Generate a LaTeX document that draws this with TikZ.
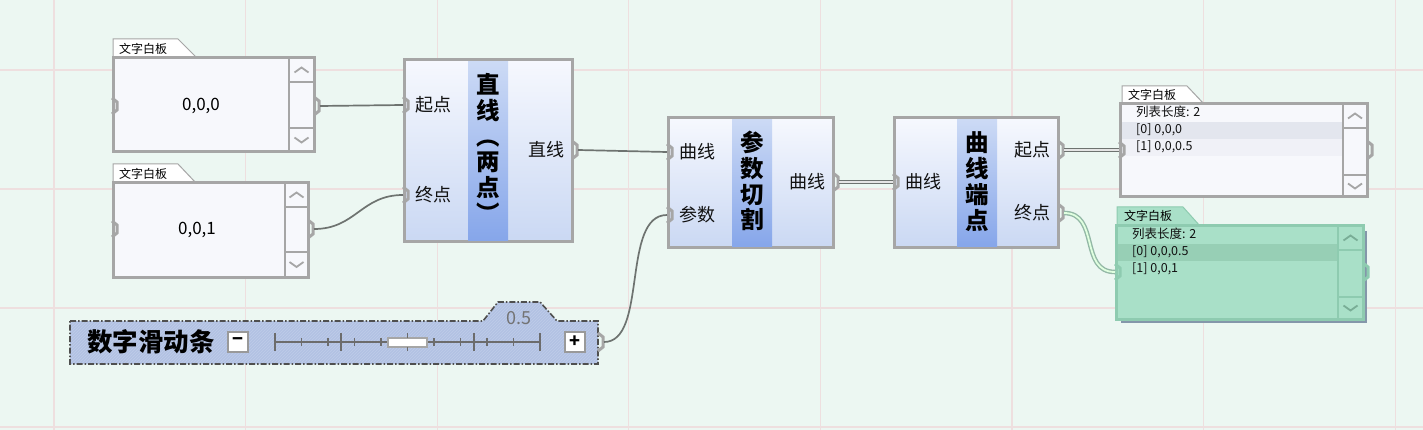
\documentclass[tikz,border=0pt]{standalone}
\usepackage{fontspec}
\setmainfont{Noto Sans CJK SC}
\usetikzlibrary{patterns}
\definecolor{bg}{HTML}{ECF7F2}
\definecolor{gridc}{HTML}{EEDFDF}
\definecolor{edge}{HTML}{A6A6A6}
\definecolor{bodytop}{HTML}{F6F8FE}
\definecolor{bodybot}{HTML}{CAD8F3}
\definecolor{striptop}{HTML}{CCDAF5}
\definecolor{stripbot}{HTML}{86A6EA}
\definecolor{panelfill}{HTML}{F7F8FC}
\definecolor{rowdark}{HTML}{E3E6EE}
\definecolor{rowlight}{HTML}{F0F1F7}
\definecolor{wirec}{HTML}{6E7370}
\definecolor{sliderfill}{HTML}{B2C2E3}
\definecolor{sliderhatch}{HTML}{BFCCE9}
\definecolor{sliderborder}{HTML}{4F4F4F}
\definecolor{greenfill}{HTML}{A9E0C8}
\definecolor{greenedge}{HTML}{8ECBB0}
\definecolor{greenrow}{HTML}{97CFB5}
\definecolor{greenshadow}{HTML}{8497AA}
\definecolor{gwire}{HTML}{93B8A6}
\definecolor{txt}{HTML}{111111}

\tikzset{
  gridline/.style={draw=gridc, line width=1.3pt},
  comp/.style={draw=edge, line width=3pt, top color=bodytop, bottom color=bodybot,
    rectangle, inner sep=0pt, outer sep=0pt, anchor=north west},
  stripbox/.style={top color=striptop, bottom color=stripbot, rectangle,
    inner sep=0pt, outer sep=0pt, anchor=north west},
  titletext/.style={font=\fontsize{23.5}{25.8}\selectfont\bfseries, align=center,
    inner sep=0pt, text=black},
  portlabel/.style={font=\fontsize{18}{20}\selectfont, inner sep=0pt, text=txt},
  grip/.style={draw=edge, line width=3pt, line join=miter},
  wire/.style={draw=wirec, line width=1.7pt},
  dwire/.style={draw=wirec, double=white!80!gray, line width=1.4pt, double distance=1.8pt},
  gdwire/.style={draw=gwire, double=white!88!green, line width=1.4pt, double distance=1.8pt},
  panelbox/.style={draw=edge, line width=3pt, fill=panelfill, rectangle,
    inner sep=0pt, outer sep=0pt, anchor=north west},
  greenbox/.style={draw=greenedge, line width=3pt, fill=greenfill, rectangle,
    inner sep=0pt, outer sep=0pt, anchor=north west},
  tabshape/.style={draw=edge, line width=1pt, fill=white},
  gtabshape/.style={draw=greenedge, line width=1pt, fill=greenfill},
  tabtext/.style={font=\fontsize{12}{12}\selectfont, anchor=west, inner sep=0pt, text=black},
  valtext/.style={font=\fontsize{17}{18}\selectfont, inner sep=0pt, text=black},
  listtext/.style={font=\fontsize{12.5}{14}\selectfont, anchor=west, inner sep=0pt, text=txt},
  scrollline/.style={draw=edge, line width=2.4pt},
  chev/.style={draw=edge, line width=1.8pt},
  gchev/.style={draw=greenedge!85!black, line width=1.8pt},
  sbtn/.style={draw=gray!80, line width=1.6pt, fill=white, rectangle, inner sep=0pt,
    minimum width=20pt, minimum height=20pt, font=\fontsize{18}{18}\selectfont\bfseries},
}
\newcommand\ingrip[2]{\draw[grip] (#1-1,#2-8) -- (#1+4,#2-4) -- (#1+4,#2+4) -- (#1-1,#2+8);}
\newcommand\outgrip[2]{\draw[grip] (#1,#2-9) -- (#1+5,#2-5) -- (#1+5,#2+5) -- (#1,#2+9);}
\newcommand\upchev[3][chev]{\draw[#1] (#2-7,#3+2.5) -- (#2,#3-2.5) -- (#2+7,#3+2.5);}
\newcommand\downchev[3][chev]{\draw[#1] (#2-7,#3-2.5) -- (#2,#3+2.5) -- (#2+7,#3-2.5);}

\begin{document}
\begin{tikzpicture}[x=1pt,y=-1pt]
\useasboundingbox (0,0) rectangle (1423,430);
\fill[fill=bg] (0,0) rectangle (1423,430);
\foreach \gx in {54,245.6,437.2,628.8,820.4,1012,1203.6,1395.2}
  \draw[gridline] (\gx,0) -- (\gx,430);
\foreach \gy in {70,189,308,427}
  \draw[gridline] (0,\gy) -- (1423,\gy);

% ---------- panel 1 : 0,0,0 ----------
\draw[tabshape] (113,58) -- (113,39) -- (178,39) -- (197,58);
\node[tabtext] (tabA) at (119,49) {文字白板};
\node[panelbox, minimum width=201pt, minimum height=94pt] (pa) at (113,58) {};
\draw[scrollline] (289,58) -- (289,152);
\draw[scrollline] (289,82) -- (314,82);
\draw[scrollline] (289,128) -- (314,128);
\upchev{301.5}{70}
\downchev{301.5}{140}
\node[valtext] (vala) at (201,106) {0,0,0};
\ingrip{113}{106}
\outgrip{314}{106}
\coordinate (paout) at (320,106);

% ---------- panel 2 : 0,0,1 ----------
\draw[tabshape] (113,183) -- (113,164) -- (178,164) -- (196,183);
\node[tabtext] (tabB) at (119,174) {文字白板};
\node[panelbox, minimum width=195pt, minimum height=94pt] (pb) at (113,183) {};
\draw[scrollline] (285,183) -- (285,277);
\draw[scrollline] (285,207) -- (308,207);
\draw[scrollline] (285,252) -- (308,252);
\upchev{296.5}{195}
\downchev{296.5}{264.5}
\node[valtext] (valb) at (197,230) {0,0,1};
\ingrip{113}{229}
\outgrip{308}{229}
\coordinate (pbout) at (314,229);

% ---------- component: 直线（两点） ----------
\node[comp, minimum width=168pt, minimum height=182pt] (line) at (404,60) {};
\node[stripbox, minimum width=40pt, minimum height=179pt] (lstrip) at (468,61.5) {};
\node[titletext] (ltitle) at (488,148) {直\\线\\︵\\两\\点\\︶};
\node[portlabel, anchor=west] (lS) at (415,105) {起点};
\node[portlabel, anchor=west] (lE) at (415,195) {终点};
\node[portlabel, anchor=east] (lO) at (565,150) {直线};
\ingrip{404}{105}
\ingrip{404}{195}
\outgrip{572}{150}
\coordinate (linS) at (403,105);
\coordinate (linE) at (403,195);
\coordinate (lout) at (578,150);

% ---------- component: 参数切割 ----------
\node[comp, minimum width=165pt, minimum height=130pt] (cut) at (668,118) {};
\node[stripbox, minimum width=40pt, minimum height=127pt] (cstrip) at (732,119.5) {};
\node[titletext] (ctitle) at (752,181) {参\\数\\切\\割};
\node[portlabel, anchor=west] (cC) at (679,152) {曲线};
\node[portlabel, anchor=west] (cP) at (679,215) {参数};
\node[portlabel, anchor=east] (cO) at (826,182) {曲线};
\ingrip{668}{152}
\ingrip{668}{215}
\outgrip{833}{182}
\coordinate (cinC) at (667,152);
\coordinate (cinP) at (667,215);
\coordinate (cout) at (839,182);

% ---------- component: 曲线端点 ----------
\node[comp, minimum width=164pt, minimum height=130pt] (ends) at (894,118) {};
\node[stripbox, minimum width=40pt, minimum height=127pt] (estrip) at (957,119.5) {};
\node[titletext] (etitle) at (977,181.5) {曲\\线\\端\\点};
\node[portlabel, anchor=west] (eC) at (905,182) {曲线};
\node[portlabel, anchor=east] (eS) at (1051,150) {起点};
\node[portlabel, anchor=east] (eE) at (1051,213) {终点};
\ingrip{894}{182}
\outgrip{1058}{150}
\outgrip{1058}{213}
\coordinate (einC) at (893,182);
\coordinate (eoutS) at (1064,150);
\coordinate (eoutE) at (1064,213);

% ---------- panel 3 (white list) ----------
\draw[tabshape] (1122,104) -- (1122,86) -- (1187,86) -- (1204,104);
\node[tabtext] (tabC) at (1128,95) {文字白板};
\node[panelbox, minimum width=247pt, minimum height=93pt] (pc) at (1120,104) {};
\fill[fill=rowdark] (1121.5,122) rectangle (1343,139);
\fill[fill=rowlight] (1121.5,139) rectangle (1343,156);
\draw[scrollline] (1343,104) -- (1343,197);
\draw[scrollline] (1343,128) -- (1367,128);
\draw[scrollline] (1343,175) -- (1367,175);
\upchev{1355}{116}
\downchev{1355}{186}
\node[listtext] (c0) at (1136,112) {列表长度: 2};
\node[listtext] (c1) at (1136,130) {[0] 0,0,0};
\node[listtext] (c2) at (1136,147) {[1] 0,0,0.5};
\ingrip{1120}{150}
\outgrip{1367}{150}
\coordinate (pcin) at (1119,150);

% ---------- panel 4 (green list) ----------
\fill[fill=greenshadow] (1121,231) rectangle (1367,323);
\draw[gtabshape] (1117,226) -- (1117,207) -- (1183,207) -- (1200,226);
\node[tabtext] (tabD) at (1124,216) {文字白板};
\node[greenbox, minimum width=247pt, minimum height=93pt] (pd) at (1116,226) {};
\fill[fill=greenrow] (1117.5,244) rectangle (1338,261);
\draw[draw=greenedge, line width=2.4pt] (1338,226) -- (1338,319);
\draw[draw=greenedge, line width=2.4pt] (1338,250) -- (1363,250);
\draw[draw=greenedge, line width=2.4pt] (1338,297) -- (1363,297);
\upchev[gchev]{1350.5}{238}
\downchev[gchev]{1350.5}{308}
\node[listtext] (d0) at (1132,234) {列表长度: 2};
\node[listtext] (d1) at (1132,252) {[0] 0,0,0.5};
\node[listtext] (d2) at (1132,269) {[1] 0,0,1};
\draw[draw=greenedge, line width=3pt] (1115,264) -- (1120,268) -- (1120,276) -- (1115,280);
\draw[draw=greenedge, line width=3pt] (1363,263) -- (1368,267) -- (1368,277) -- (1363,281);
\coordinate (pdin) at (1115,272);

% ---------- number slider ----------
\draw[draw=sliderborder, line width=1.6pt, dash pattern=on 6pt off 2pt on 1.5pt off 2pt,
      preaction={fill=sliderfill},
      preaction={pattern=north east lines, pattern color=sliderhatch}]
  (70,321) -- (483,321) -- (498,302) -- (540,302) -- (557,321) -- (598,321)
  -- (598,364) -- (70,364) -- cycle;
\node[font=\fontsize{25.5}{25.5}\selectfont\bfseries, inner sep=0pt, text=black] (stitle) at (151,342) {数字滑动条};
\node[font=\fontsize{18}{18}\selectfont, inner sep=0pt, text=gray!90!black] (sval) at (519,318) {0.5};
\node[sbtn] (minus) at (238,342) {−};
\node[sbtn] (plus) at (575,342) {+};
\draw[draw=gray!85!black, line width=1.5pt] (275,342) -- (540,342);
\foreach \tx in {275,341.25,407.5,473.75,540}
  \draw[draw=gray!85!black, line width=1.6pt] (\tx,333) -- (\tx,351);
\foreach \tx in {301.5,328,354.5,381,434,460.5,487,513.5}
  \draw[draw=gray!85!black, line width=1.4pt] (\tx,338) -- (\tx,346);
\draw[draw=gray!70, line width=1.2pt, fill=white] (388,338) rectangle (427,347);
\draw[draw=gray!85!black, line width=1.6pt] (407.5,333) -- (407.5,338);
\draw[draw=gray!85!black, line width=1.6pt] (407.5,347) -- (407.5,351);
\outgrip{598}{342}
\coordinate (sout) at (604,342);

% ---------- wires ----------
\draw[wire] (paout) -- (linS);
\draw[wire] (pbout) .. controls +(42,0) and +(-42,0) .. (linE);
\draw[wire] (lout) -- (cinC);
\draw[wire] (sout) .. controls +(44,0) and +(-46,0) .. (cinP);
\draw[dwire] (cout) -- (einC);
\draw[dwire] (eoutS) -- (pcin);
\draw[gdwire] (eoutE) .. controls +(36,0) and +(-36,0) .. (pdin);
\end{tikzpicture}
\end{document}
